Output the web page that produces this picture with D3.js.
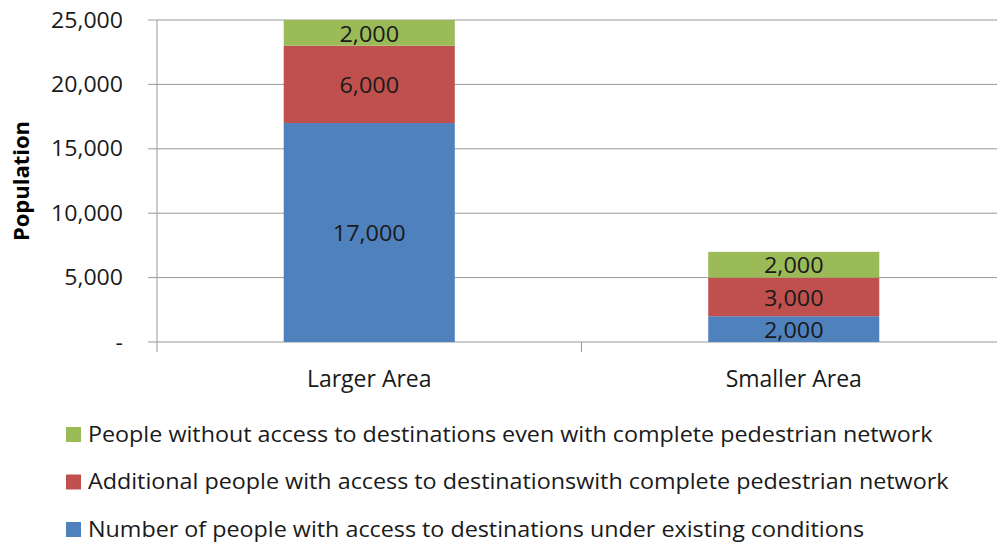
<!DOCTYPE html>
<html>
<head>
<meta charset="utf-8">
<script src="https://cdn.jsdelivr.net/npm/d3@7"></script>
<style>
  body { margin: 0; background: #fff; }
  text { font-family: "Open Sans", sans-serif; fill: #1a1a1a; }
</style>
</head>
<body>
<svg id="chart" width="997" height="544"></svg>
<script>
var categories = ["Larger Area", "Smaller Area"];
var existing = [17000, 2000];
var additional = [6000, 3000];
var without = [2000, 2000];
var yTicks = [0, 5000, 10000, 15000, 20000, 25000];

var seriesNames = [
  "Number of people with access to destinations under existing conditions",
  "Additional people with access to destinationswith complete pedestrian network",
  "People without access to destinations even with complete pedestrian network"
];
var seriesColors = ["#4f81bd", "#c0504d", "#9bbb59"];

var margin = {top: 20, right: -9, bottom: 202, left: 157};
var width = 997 - margin.left - margin.right,
    height = 544 - margin.top - margin.bottom;
var stretch = 1.1; //text in the original is a bit wide

var svg = d3.select("#chart");
var g = svg.append("g").attr("transform", "translate(" + margin.left + "," + margin.top + ")");

//Scales
var x = d3.scaleBand().domain(categories).range([0, width]).padding(0);
var y = d3.scaleLinear().domain([0, 25000]).range([height, 0]);

function place(fx, fy){
  return function(d){ return "translate(" + fx(d) + "," + fy(d) + ") scale(" + stretch + ",1)"; };
}

//Gridlines
g.selectAll(".grid").data(yTicks).enter().append("line")
  .attr("x1", -9).attr("x2", width)
  .attr("y1", function(d){ return y(d); })
  .attr("y2", function(d){ return y(d); })
  .style("stroke", "#999").style("stroke-width", 1);

//Stack data
var rows = categories.map(function(c, i){
  return {cat: c, s0: existing[i], s1: additional[i], s2: without[i]};
});
var stack = d3.stack().keys(["s0", "s1", "s2"])(rows);
var barW = x.bandwidth() * 0.403;

var layers = g.selectAll(".layer").data(stack).enter().append("g")
  .style("fill", function(d, i){ return seriesColors[i]; });

layers.selectAll("rect").data(function(d){ return d; }).enter().append("rect")
  .attr("x", function(d){ return x(d.data.cat) + (x.bandwidth() - barW) / 2; })
  .attr("width", barW)
  .attr("y", function(d){ return y(d[1]); })
  .attr("height", function(d){ return y(d[0]) - y(d[1]); });

layers.selectAll("text").data(function(d){ return d; }).enter().append("text")
  .attr("transform", place(
    function(d){ return x(d.data.cat) + x.bandwidth() / 2; },
    function(d){ return (y(d[0]) + y(d[1])) / 2 + 1; }))
  .attr("dy", "0.36em")
  .attr("text-anchor", "middle")
  .style("font-size", "21.3px")
  .style("fill", "#1a1a1a")
  .text(function(d){ return d3.format(",")(d[1] - d[0]); });

//Y axis
g.append("line").attr("x1", 0).attr("x2", 0).attr("y1", 0).attr("y2", height + 10)
  .style("stroke", "#999").style("stroke-width", 1);

g.selectAll(".ylab").data(yTicks).enter().append("text")
  .attr("transform", place(function(){ return -34; }, function(d){ return y(d); }))
  .attr("dy", "0.36em")
  .attr("text-anchor", "end")
  .style("font-size", "21px")
  .text(function(d){ return d === 0 ? "-" : d3.format(",")(d); });

//X axis category ticks
g.selectAll(".xtick").data(categories.slice(1)).enter().append("line")
  .attr("x1", function(d){ return x(d); }).attr("x2", function(d){ return x(d); })
  .attr("y1", height).attr("y2", height + 10)
  .style("stroke", "#999");

g.selectAll(".xlab").data(categories).enter().append("text")
  .attr("x", function(d){ return x(d) + x.bandwidth() / 2; })
  .attr("y", height + 45)
  .attr("text-anchor", "middle")
  .style("font-size", "23px")
  .text(function(d){ return d; });

//Y label
svg.append("text")
  .attr("transform", "translate(29,181) rotate(-90)")
  .attr("text-anchor", "middle")
  .style("font-size", "22px")
  .style("font-weight", "bold")
  .style("fill", "#000")
  .text("Population");

//Legend, top row is last series
var legendOrder = [2, 1, 0];
var legend = svg.selectAll(".legend").data(legendOrder).enter().append("g")
  .attr("transform", function(d, i){ return "translate(66," + (434 + i * 47.5) + ")"; });

legend.append("rect")
  .attr("x", 0).attr("y", -7).attr("width", 15).attr("height", 15)
  .style("fill", function(d){ return seriesColors[d]; });

legend.append("text")
  .attr("transform", "translate(22,0) scale(" + stretch + ",1)")
  .attr("dy", "0.36em")
  .style("font-size", "21.2px")
  .text(function(d){ return seriesNames[d]; });
</script>
</body>
</html>
